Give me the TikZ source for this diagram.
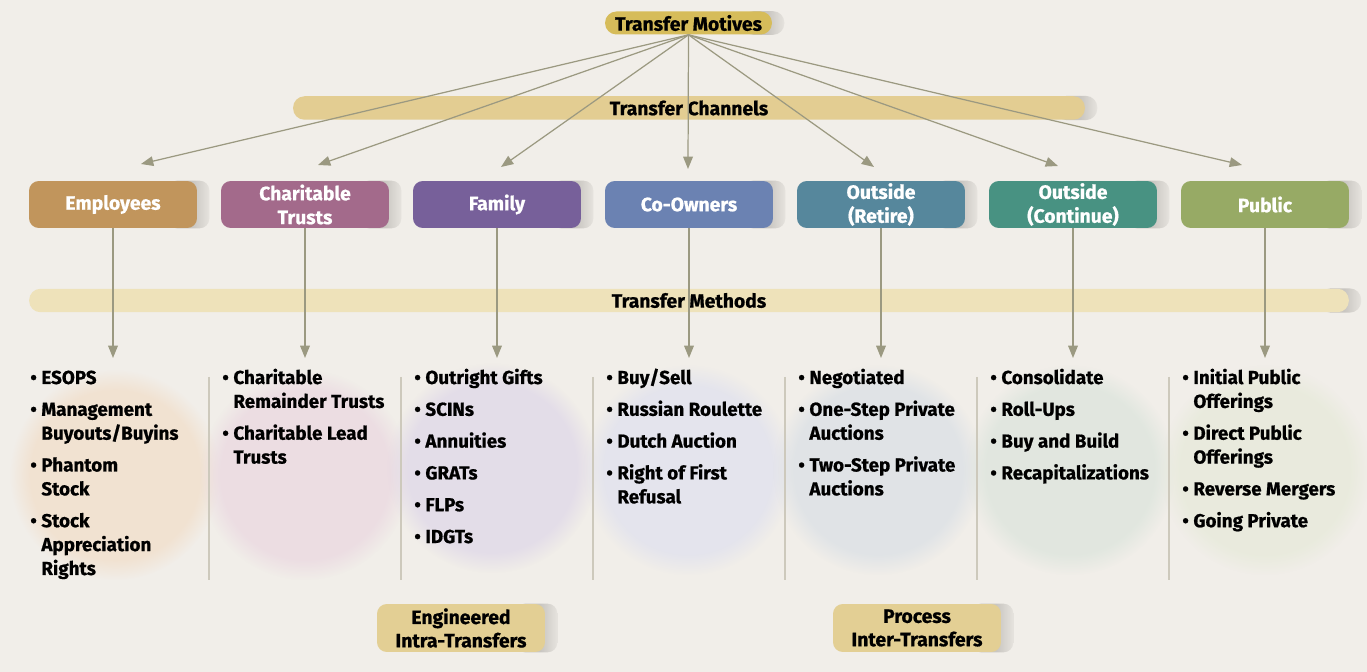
\documentclass[tikz,border=0pt]{standalone}
\usepackage{fontspec}
\setmainfont{Fira Sans}[BoldFeatures={FakeBold=0.8}]
\usetikzlibrary{arrows.meta,fadings}
\definecolor{bgc}{HTML}{F1EEE9}
\definecolor{empc}{HTML}{C1955C}
\definecolor{charc}{HTML}{A36A8B}
\definecolor{famc}{HTML}{77609A}
\definecolor{coc}{HTML}{6B82B2}
\definecolor{retc}{HTML}{56879C}
\definecolor{contc}{HTML}{489282}
\definecolor{pubc}{HTML}{97AA65}
\definecolor{motc}{HTML}{D6BC5A}
\definecolor{chanc}{HTML}{E3CD92}
\definecolor{methc}{HTML}{EEE2BA}
\definecolor{botc}{HTML}{E3CF94}
\definecolor{arrowc}{HTML}{9B9981}
\definecolor{sepc}{HTML}{CDC9BC}
\definecolor{shadowc}{HTML}{C9C6C1}
\definecolor{shadowl}{HTML}{E6E3DE}
\definecolor{bempc}{HTML}{F2DFCB}
\definecolor{bcharc}{HTML}{EBD9E1}
\definecolor{bfamc}{HTML}{E0D9E8}
\definecolor{bcoc}{HTML}{E1E2EE}
\definecolor{bretc}{HTML}{DCE1E6}
\definecolor{bcontc}{HTML}{DDE5DD}
\definecolor{bpubc}{HTML}{E7EADA}
\pgfdeclarehorizontalshading{shadowsh}{100bp}{color(0bp)=(shadowc); color(55bp)=(shadowc); color(75bp)=(shadowl); color(100bp)=(shadowl)}
\pgfdeclarelayer{background}
\pgfsetlayers{background,main}
\newcommand\castshadow[2]{\shade[shading=shadowsh, rounded corners=#2] ([xshift=-0.6cm]#1.north east) rectangle ([xshift=0.24cm]#1.south east);}
\tikzset{
  hdr/.style={rounded corners=5.6pt, minimum width=3.36cm, minimum height=0.94cm, text=white,
    font=\bfseries\fontsize{11}{13.6}\selectfont, align=center, inner sep=0pt},
  band/.style={rounded corners=6.5pt, minimum height=0.47cm, inner sep=0pt,
    font=\bfseries\fontsize{11}{12}\selectfont},
  lbl/.style={fill=botc, rounded corners=5.6pt, minimum width=3.36cm, minimum height=0.96cm,
    inner sep=0pt, align=center, font=\bfseries\fontsize{11}{13.3}\selectfont},
  fan/.style={draw=arrowc, line width=0.7pt, -{Triangle[width=5.5pt,length=7pt]}},
  sepline/.style={draw=sepc, line width=0.9pt},
  lst/.style={anchor=base west, inner sep=0pt, font=\bfseries\fontsize{10.7}{13.6}\selectfont},
  blob/.style={path fading=circle with fuzzy edge 20 percent, fill opacity=0.8}
}
\newcommand\bul{\textbullet}
\begin{document}
\begin{tikzpicture}[x=0.02cm,y=-0.02cm]
\useasboundingbox (0,0) rectangle (1367,672);
\begin{pgfonlayer}{background}
\fill[bgc] (0,0) rectangle (1367,672);
\fill[bempc, blob] (115,475) circle (105);
\fill[bcharc, blob] (305,475) circle (105);
\fill[bfamc, blob] (492,468) circle (105);
\fill[bcoc, blob] (688,470) circle (105);
\fill[bretc, blob] (878,470) circle (105);
\fill[bcontc, blob] (1070,470) circle (105);
\fill[bpubc, blob] (1265,470) circle (105);
\end{pgfonlayer}

% top
\node[fill=motc, rounded corners=6.5pt, minimum width=3.34cm, minimum height=0.46cm, inner sep=0pt,
  font=\bfseries\fontsize{11}{12}\selectfont] (mot) at (688.5,23) {Transfer Motives};
\node[band, fill=chanc, minimum width=15.84cm] (chan) at (689,108) {Transfer Channels};
\node[band, fill=methc, minimum width=26.4cm] (meth) at (689,300.5) {Transfer Methods};

% channel boxes
\node[hdr, fill=empc]   (emp)  at (113,204.5) {Employees};
\node[hdr, fill=charc]  (char) at (305,204.5) {Charitable\\Trusts};
\node[hdr, fill=famc]   (fam)  at (497,204.5) {Family};
\node[hdr, fill=coc]    (co)   at (689,204.5) {Co-Owners};
\node[hdr, fill=retc]   (ret)  at (881,204.5) {Outside\\(Retire)};
\node[hdr, fill=contc]  (cont) at (1073,204.5) {Outside\\(Continue)};
\node[hdr, fill=pubc]   (pub)  at (1265,204.5) {Public};

% bottom labels
\node[lbl] (eng) at (461,628) {Engineered\\Intra-Transfers};
\node[lbl] (proc) at (917,628) {Process\\Inter-Transfers};

\begin{pgfonlayer}{background}
\castshadow{mot}{6.5pt}
\castshadow{chan}{6.5pt}
\castshadow{meth}{6.5pt}
\foreach \n in {emp,char,fam,co,ret,cont,pub,eng,proc}{\castshadow{\n}{5.6pt}}
\end{pgfonlayer}

% fan arrows
\coordinate (f1) at (141,164);
\coordinate (f2) at (318,165);
\coordinate (f3) at (501,167);
\coordinate (f4) at (688,169);
\coordinate (f5) at (874,167);
\coordinate (f6) at (1058,166);
\coordinate (f7) at (1242,165);
\foreach \i in {1,...,7}{\draw[fan] (mot.south) -- (f\i);}

% vertical arrows
\coordinate (v1) at (113,358);
\coordinate (v2) at (305,358);
\coordinate (v3) at (497,358);
\coordinate (v4) at (689,358);
\coordinate (v5) at (881,358);
\coordinate (v6) at (1073,358);
\coordinate (v7) at (1265,358);
\draw[fan] (emp.south) -- (v1);
\draw[fan] (char.south) -- (v2);
\draw[fan] (fam.south) -- (v3);
\draw[fan] (co.south) -- (v4);
\draw[fan] (ret.south) -- (v5);
\draw[fan] (cont.south) -- (v6);
\draw[fan] (pub.south) -- (v7);

% separators
\foreach \x [count=\k] in {209,401,593,785,977,1169}{
  \coordinate (st\k) at (\x,377);
  \coordinate (sb\k) at (\x,580);
  \draw[sepline] (st\k) -- (sb\k);
}

% lists
\node[lst] (l1) at (30,384) {\begin{tabular}[t]{@{}l@{\hspace{2.6pt}}l@{}}
\bul & ESOPS\\[4.5pt]
\bul & Management\\ & Buyouts/Buyins\\[4.5pt]
\bul & Phantom\\ & Stock\\[4.5pt]
\bul & Stock\\ & Appreciation\\ & Rights
\end{tabular}};
\node[lst] (l2) at (222,384) {\begin{tabular}[t]{@{}l@{\hspace{2.6pt}}l@{}}
\bul & Charitable\\ & Remainder Trusts\\[4.5pt]
\bul & Charitable Lead\\ & Trusts
\end{tabular}};
\node[lst] (l3) at (414,384) {\begin{tabular}[t]{@{}l@{\hspace{2.6pt}}l@{}}
\bul & Outright Gifts\\[4.5pt]
\bul & SCINs\\[4.5pt]
\bul & Annuities\\[4.5pt]
\bul & GRATs\\[4.5pt]
\bul & FLPs\\[4.5pt]
\bul & IDGTs
\end{tabular}};
\node[lst] (l4) at (606,384) {\begin{tabular}[t]{@{}l@{\hspace{2.6pt}}l@{}}
\bul & Buy/Sell\\[4.5pt]
\bul & Russian Roulette\\[4.5pt]
\bul & Dutch Auction\\[4.5pt]
\bul & Right of First\\ & Refusal
\end{tabular}};
\node[lst] (l5) at (798,384) {\begin{tabular}[t]{@{}l@{\hspace{2.6pt}}l@{}}
\bul & Negotiated\\[4.5pt]
\bul & One-Step Private\\ & Auctions\\[4.5pt]
\bul & Two-Step Private\\ & Auctions
\end{tabular}};
\node[lst] (l6) at (990,384) {\begin{tabular}[t]{@{}l@{\hspace{2.6pt}}l@{}}
\bul & Consolidate\\[4.5pt]
\bul & Roll-Ups\\[4.5pt]
\bul & Buy and Build\\[4.5pt]
\bul & Recapitalizations
\end{tabular}};
\node[lst] (l7) at (1182,384) {\begin{tabular}[t]{@{}l@{\hspace{2.6pt}}l@{}}
\bul & Initial Public\\ & Offerings\\[4.5pt]
\bul & Direct Public\\ & Offerings\\[4.5pt]
\bul & Reverse Mergers\\[4.5pt]
\bul & Going Private
\end{tabular}};
\end{tikzpicture}
\end{document}
